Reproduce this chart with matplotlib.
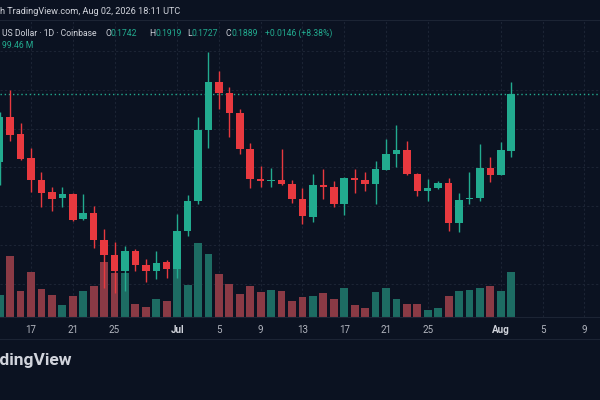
import pandas as pd
import matplotlib
matplotlib.use("Agg")
import matplotlib.pyplot as plt
import matplotlib.dates as mdates
import matplotlib.transforms as mtransforms
from matplotlib.lines import Line2D

plt.rcParams["font.family"] = ["Roboto", "DejaVu Sans"]

BG = "#0b1221"
GRID = "#1c2434"
UP = "#22ab8f"
DOWN = "#e8393f"
UP_VOL = "#1d6c63"
DOWN_VOL = "#8a3a45"
TXT = "#d1d4dc"
TICK = "#b2b5be"

dates = pd.date_range("2026-06-14", "2026-08-02", freq="D")

opens = [0.1714, 0.1830, 0.1786, 0.1724, 0.1667, 0.1636, 0.1621, 0.1631, 0.1567, 0.1582,
         0.1512, 0.1474, 0.1433, 0.1484, 0.1448, 0.1433, 0.1456,
         0.1438, 0.1536, 0.1613, 0.1796, 0.1920, 0.1892, 0.1840, 0.1747, 0.1670, 0.1665,
         0.1667, 0.1657, 0.1618, 0.1572, 0.1654, 0.1649, 0.1605, 0.1672, 0.1667, 0.1657,
         0.1693, 0.1734, 0.1745, 0.1683, 0.1639, 0.1647, 0.1660, 0.1556, 0.1618, 0.1621,
         0.1698, 0.1680, 0.1742]
highs = [0.1843, 0.1899, 0.1814, 0.1750, 0.1688, 0.1649, 0.1649, 0.1634, 0.1631, 0.1600,
         0.1541, 0.1507, 0.1497, 0.1489, 0.1463, 0.1484, 0.1461,
         0.1580, 0.1629, 0.1830, 0.1997, 0.1948, 0.1907, 0.1850, 0.1763, 0.1703, 0.1698,
         0.1747, 0.1667, 0.1647, 0.1683, 0.1696, 0.1665, 0.1675, 0.1696, 0.1688, 0.1716,
         0.1773, 0.1809, 0.1768, 0.1685, 0.1670, 0.1665, 0.1672, 0.1634, 0.1688, 0.1760,
         0.1726, 0.1765, 0.1919]
lows = [0.1654, 0.1768, 0.1719, 0.1636, 0.1598, 0.1587, 0.1598, 0.1561, 0.1564, 0.1492,
        0.1389, 0.1376, 0.1381, 0.1433, 0.1404, 0.1412, 0.1415,
        0.1415, 0.1523, 0.1605, 0.1750, 0.1850, 0.1778, 0.1734, 0.1647, 0.1649, 0.1649,
        0.1654, 0.1608, 0.1554, 0.1559, 0.1618, 0.1598, 0.1577, 0.1634, 0.1639, 0.1605,
        0.1693, 0.1701, 0.1680, 0.1626, 0.1613, 0.1644, 0.1536, 0.1533, 0.1605, 0.1613,
        0.1662, 0.1680, 0.1727]
closes = [0.1830, 0.1783, 0.1721, 0.1667, 0.1634, 0.1618, 0.1631, 0.1564, 0.1582, 0.1512,
          0.1474, 0.1433, 0.1484, 0.1448, 0.1433, 0.1453, 0.1438,
          0.1536, 0.1613, 0.1796, 0.1920, 0.1892, 0.1840, 0.1747, 0.1670, 0.1665, 0.1667,
          0.1657, 0.1618, 0.1574, 0.1654, 0.1649, 0.1605, 0.1672, 0.1667, 0.1657, 0.1696,
          0.1734, 0.1745, 0.1683, 0.1639, 0.1647, 0.1660, 0.1556, 0.1616, 0.1621, 0.1698,
          0.1680, 0.1745, 0.1889]
# volume in millions
volumes = [48.6, 134.8, 57.5, 99.5, 61.9, 48.6, 26.5, 46.4, 57.5, 68.5,
           121.6, 97.3, 97.3, 28.7, 22.1, 39.8, 35.4,
           117.1, 70.7, 163.5, 139.2, 95.0, 72.9, 50.8, 68.5, 55.3, 59.7,
           57.5, 35.4, 44.2, 46.4, 53.0, 39.8, 64.1, 26.5, 19.9, 55.3,
           64.1, 39.8, 28.7, 28.7, 15.5, 19.9, 46.4, 57.5, 59.7, 64.1,
           68.5, 57.5, 99.46]

tick_dates = ["2026-06-17", "2026-06-21", "2026-06-25", "2026-07-01", "2026-07-05",
              "2026-07-09", "2026-07-13", "2026-07-17", "2026-07-21", "2026-07-25",
              "2026-08-01", "2026-08-05", "2026-08-09"]
tick_labels = ["17", "21", "25", "Jul", "5", "9", "13", "17", "21", "25", "Aug", "5", "9"]
price_levels = [0.13, 0.14, 0.15, 0.16, 0.17, 0.18, 0.19, 0.20]

fig = plt.figure(figsize=(6, 4), dpi=100, facecolor=BG)
rect = [0, 83 / 400, 1, 297 / 400]
ax_v = fig.add_axes(rect, facecolor=BG)
ax = fig.add_axes(rect, sharex=ax_v)
ax.patch.set_alpha(0)

x = mdates.date2num(dates)
x0 = x[0]
ax_v.set_xlim(x0 + 0.03, x0 + 57.5)
ax.set_ylim(0.1314, 0.2080)
ax_v.set_ylim(0, 656)

# grid (drawn in the bottom axes so bars sit over it)
tx = mdates.date2num(pd.to_datetime(tick_dates))
ax_v.vlines(tx, 0, 1, transform=ax_v.get_xaxis_transform(), color=GRID,
            lw=0.8, ls=(0, (2, 2)), zorder=0)
blend = mtransforms.blended_transform_factory(ax_v.transAxes, ax.transData)
ax_v.hlines(price_levels, 0, 1, transform=blend, color=GRID, lw=0.8,
            ls=(0, (2, 2)), zorder=0)

up = [c >= o for o, c in zip(opens, closes)]
ax_v.bar(x, volumes, width=0.75, color=[UP_VOL if u else DOWN_VOL for u in up],
         zorder=2)

ccol = [UP if u else DOWN for u in up]
ax.vlines(x, lows, highs, color=ccol, lw=1, zorder=3)
bottoms = [min(o, c) for o, c in zip(opens, closes)]
heights = [max(abs(c - o), 0.0003) for o, c in zip(opens, closes)]
ax.bar(x, heights, bottom=bottoms, width=0.72, color=ccol, zorder=4)

ax.axhline(closes[-1], color=UP, lw=1, ls=(0, (1, 2)), zorder=2)

for a in (ax, ax_v):
    for s in a.spines.values():
        s.set_visible(False)
    a.set_yticks([])
ax.tick_params(axis="x", which="both", bottom=False, labelbottom=False)
ax_v.set_xticks(tx)
ax_v.set_xticklabels(tick_labels)
ax_v.tick_params(axis="x", length=0, pad=6, labelsize=7, colors=TICK)
for lab in ax_v.get_xticklabels():
    if lab.get_text() in ("Jul", "Aug"):
        lab.set_fontweight("bold")
        lab.set_color(TXT)

# separators
for yy in (20, 317, 339):
    fig.add_artist(Line2D([0, 1], [1 - yy / 400] * 2, color=GRID, lw=0.8))

def ft(px, py, s, color=TXT, size=6.2, **kw):
    fig.text(px / 600, 1 - py / 400, s, color=color, va="center", fontsize=size, **kw)

ft(0, 12, "h TradingView.com, Aug 02, 2026 18:11 UTC", size=6.6)
ft(2, 33, "US Dollar · 1D · Coinbase")
ft(105.5, 33, "O")
ft(110.5, 33, "0.1742", color=UP)
ft(149.5, 33, "H")
ft(155, 33, "0.1919", color=UP)
ft(187.5, 33, "L")
ft(191.5, 33, "0.1727", color=UP)
ft(225.5, 33, "C")
ft(231, 33, "0.1889", color=UP)
ft(265, 33, "+0.0146 (+8.38%)", color=UP)
ft(2, 46, "99.46 M", color=UP)
ft(72, 360, "TradingView", size=12.5, fontweight="semibold", ha="right")

fig.savefig("out.png", dpi=100, facecolor=BG)
